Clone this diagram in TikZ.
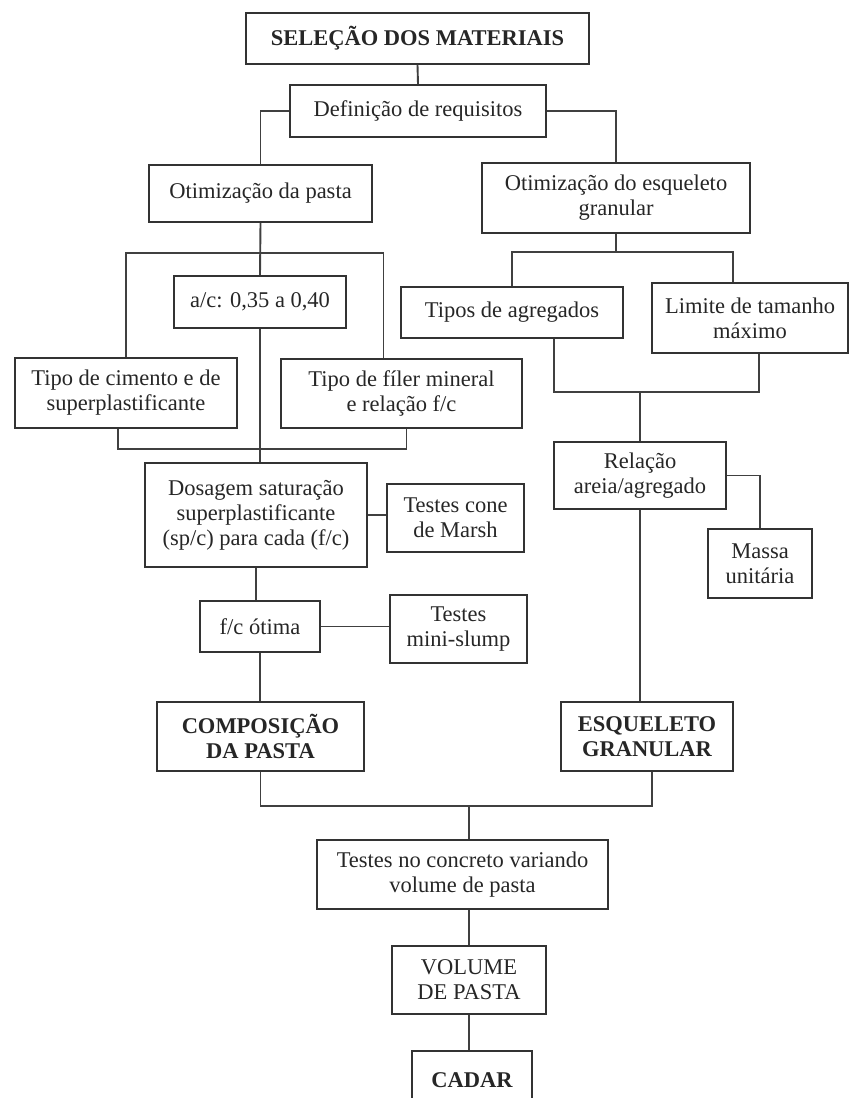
\documentclass[tikz,border=0pt]{standalone}
\usepackage{fontspec}
\setmainfont{Liberation Serif}
\usepackage{tikz}

\begin{document}
\begin{tikzpicture}[x=1pt, y=-1pt]
        \tikzstyle{every node}=[draw=black!80, line width=1.9pt, align=center, inner sep=0pt, text=black!85, font=\fontsize{22.5}{25}\selectfont]
        \tikzstyle{bold}=[font=\fontsize{22.5}{25}\selectfont\bfseries]
        \tikzstyle{conn}=[draw=black!75, line width=1.9pt]

        \useasboundingbox (0,0) rectangle (849,1098);
        \clip (0,0) rectangle (849,1098);

        \node (sel)   [bold, minimum width=343pt, minimum height=51pt] at (417.5,38.5) {SELEÇÃO DOS MATERIAIS};
        \node (def)   [minimum width=256pt, minimum height=52pt] at (418,111) {Definição de requisitos};
        \node (opast) [minimum width=223pt, minimum height=57pt] at (260.5,193.5) {Otimização da pasta};
        \node (oesq)  [minimum width=268pt, minimum height=70pt] at (616,198) {Otimização do esqueleto\\granular};
        \node (ac)    [minimum width=172pt, minimum height=52pt] at (260,302) {a/c: 0,35 a 0,40};
        \node (tcim)  [minimum width=222pt, minimum height=70pt] at (126,393) {Tipo de cimento e de\\superplastificante};
        \node (tfil)  [minimum width=241pt, minimum height=69pt] at (401.5,393.5) {Tipo de fíler mineral\\e relação f/c};
        \node (dos)   [minimum width=222pt, minimum height=104pt] at (256,515) {Dosagem saturação\\superplastificante\\(sp/c) para cada (f/c)};
        \node (tcone) [minimum width=137pt, minimum height=68pt] at (455.5,518) {Testes cone\\de Marsh};
        \node (fcot)  [minimum width=120pt, minimum height=51pt] at (260,626.5) {f/c ótima};
        \node (tmini) [minimum width=137pt, minimum height=68pt] at (458.5,629) {Testes\\mini-slump};
        \node (comp)  [bold, minimum width=207pt, minimum height=69pt] at (260.5,736.5) {COMPOSIÇÃO\\DA PASTA};
        \node (tipos) [minimum width=222pt, minimum height=51pt] at (512,312.5) {Tipos de agregados};
        \node (lim)   [minimum width=196pt, minimum height=70pt] at (750,318) {Limite de tamanho\\máximo};
        \node (rel)   [minimum width=172pt, minimum height=67pt] at (640,475.5) {Relação\\areia/agregado};
        \node (massa) [minimum width=104pt, minimum height=69pt] at (760,563.5) {Massa\\unitária};
        \node (esq)   [bold, minimum width=172pt, minimum height=69pt] at (647,736.5) {ESQUELETO\\GRANULAR};
        \node (tconc) [minimum width=291pt, minimum height=69pt] at (462.5,874.5) {Testes no concreto variando\\volume de pasta};
        \node (vol)   [minimum width=154pt, minimum height=68pt] at (469,980) {VOLUME\\DE PASTA};
        \node (cadar) [bold, minimum width=120pt, minimum height=58pt] at (472,1080) {CADAR};

        \coordinate (ub) at (260,253);
        \coordinate (lb) at (260,449);
        \coordinate (rb) at (616,252);
        \coordinate (ab) at (640,392);
        \coordinate (cb) at (469,806);

        \path[conn] (sel.south) edge (def.north)
                    (def.west) edge [to path={-| (\tikztotarget)}] (opast.north)
                    (def.east) edge [to path={-| (\tikztotarget)}] (oesq.north);

        \draw[conn] (opast.south) -- (ac.north);
        \draw[conn] (tcim.north) |- (ub) -| ([xshift=-18pt]tfil.north);
        \draw[conn] ([xshift=-8pt]tcim.south) |- (lb) -| ([xshift=5pt]tfil.south);
        \draw[conn] (ac.south) -- (ac.south |- dos.north);
        \draw[conn] (dos.east) -- (dos.east -| tcone.west);
        \draw[conn] (dos.south) -- (dos.south |- fcot.north);
        \draw[conn] (fcot.east) -- (fcot.east -| tmini.west);
        \draw[conn] (fcot.south) -- (fcot.south |- comp.north);

        \draw[conn] (oesq.south) -- (rb);
        \draw[conn] (tipos.north) |- (rb) -| ([xshift=-17pt]lim.north);
        \draw[conn] ([xshift=42pt]tipos.south) |- (ab) -| ([xshift=9pt]lim.south);
        \draw[conn] (ab) -- (rel.north);
        \draw[conn] (rel.east) -| (massa.north);
        \draw[conn] (rel.south) -- (rel.south |- esq.north);

        \draw[conn] (comp.south) |- (cb) -| ([xshift=5pt]esq.south);
        \draw[conn] (cb) -- (cb |- tconc.north);
        \draw[conn] (vol.north |- tconc.south) -- (vol.north);
        \draw[conn] (vol.south) -- (vol.south |- cadar.north);
\end{tikzpicture}
\end{document}
